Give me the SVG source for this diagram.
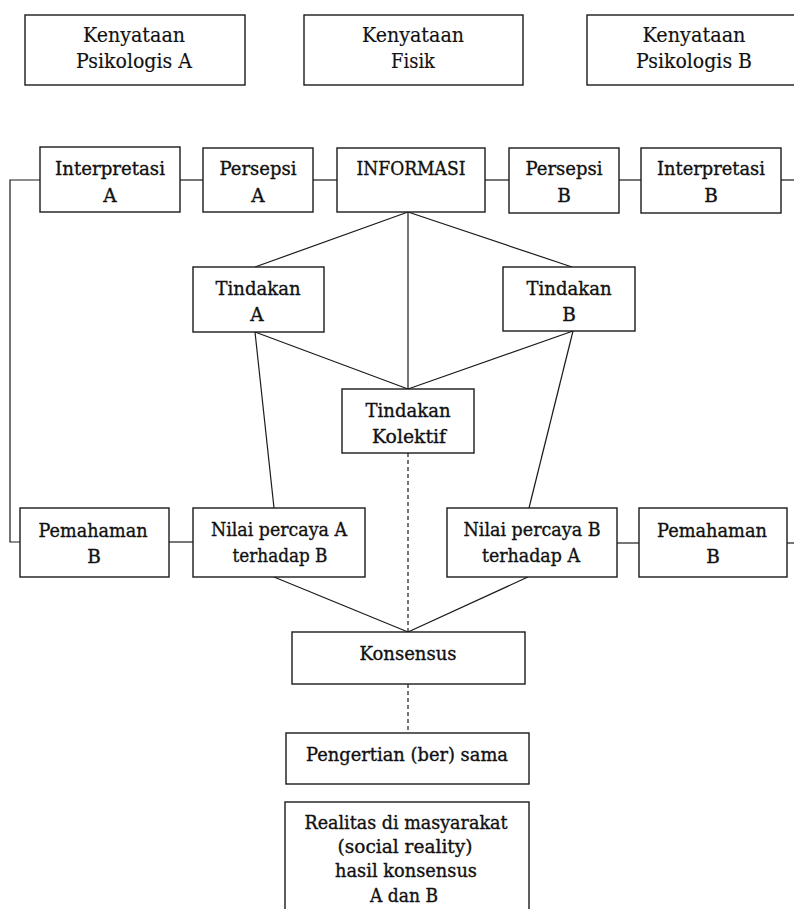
<svg xmlns="http://www.w3.org/2000/svg" width="794" height="909" viewBox="0 0 794 909">
<style>
.box{fill:#fff;stroke:#1a1a1a;stroke-width:1.4}
.ln{fill:none;stroke:#1a1a1a;stroke-width:1.2}
.dash{fill:none;stroke:#1a1a1a;stroke-width:1.2;stroke-dasharray:4 3}
text{font-family:"DejaVu Serif","Liberation Serif",serif;font-size:18.5px;fill:#111;text-anchor:middle;stroke:#111;stroke-width:0.35}
.top{font-size:20px;stroke-width:0.15}
</style>
<rect width="794" height="909" fill="#fff"/>
<g id="connectors">
<polyline class="ln" points="40,180 10,180 10,542 20,542"/>
<line class="ln" x1="180" y1="180" x2="203" y2="180"/>
<line class="ln" x1="313" y1="180" x2="337" y2="180"/>
<line class="ln" x1="485" y1="180" x2="509" y2="180"/>
<line class="ln" x1="619" y1="180" x2="641" y2="180"/>
<line class="ln" x1="781" y1="180" x2="794" y2="180"/>
<line class="ln" x1="408" y1="212" x2="255" y2="267"/>
<line class="ln" x1="408" y1="212" x2="572" y2="267"/>
<line class="ln" x1="408" y1="212" x2="408" y2="389"/>
<line class="ln" x1="255" y1="332" x2="408" y2="389"/>
<line class="ln" x1="573" y1="331" x2="408" y2="389"/>
<line class="ln" x1="255" y1="332" x2="274" y2="508"/>
<line class="ln" x1="573" y1="331" x2="529" y2="508"/>
<line class="dash" x1="408" y1="453" x2="408" y2="632"/>
<line class="ln" x1="274" y1="577" x2="408" y2="632"/>
<line class="ln" x1="528" y1="577" x2="408" y2="632"/>
<line class="dash" x1="408" y1="684" x2="408" y2="733"/>
<line class="ln" x1="169" y1="542" x2="193" y2="542"/>
<line class="ln" x1="617" y1="543" x2="639" y2="543"/>
<line class="ln" x1="787" y1="543" x2="794" y2="543"/>
</g>
<g id="kenyataan-psikologis-a">
<rect class="box" x="25" y="15" width="220" height="70"/>
<text class="top" x="134" y="42" textLength="102" lengthAdjust="spacingAndGlyphs">Kenyataan</text>
<text class="top" x="134" y="68" textLength="116" lengthAdjust="spacingAndGlyphs">Psikologis A</text>
</g>
<g id="kenyataan-fisik">
<rect class="box" x="304" y="15" width="219" height="70"/>
<text class="top" x="413" y="42" textLength="102" lengthAdjust="spacingAndGlyphs">Kenyataan</text>
<text class="top" x="413" y="68" textLength="44" lengthAdjust="spacingAndGlyphs">Fisik</text>
</g>
<g id="kenyataan-psikologis-b">
<rect class="box" x="587" y="15" width="230" height="70"/>
<text class="top" x="694" y="42" textLength="103" lengthAdjust="spacingAndGlyphs">Kenyataan</text>
<text class="top" x="694" y="68" textLength="116" lengthAdjust="spacingAndGlyphs">Psikologis B</text>
</g>
<g id="interpretasi-a">
<rect class="box" x="40" y="147" width="140" height="65"/>
<text x="110" y="175" textLength="110" lengthAdjust="spacingAndGlyphs">Interpretasi</text>
<text x="110" y="202">A</text>
</g>
<g id="persepsi-a">
<rect class="box" x="203" y="148" width="110" height="64"/>
<text x="258" y="175" textLength="77" lengthAdjust="spacingAndGlyphs">Persepsi</text>
<text x="258" y="202">A</text>
</g>
<g id="informasi">
<rect class="box" x="337" y="148" width="148" height="64"/>
<text x="411" y="175" textLength="109" lengthAdjust="spacingAndGlyphs">INFORMASI</text>
</g>
<g id="persepsi-b">
<rect class="box" x="509" y="148" width="110" height="65"/>
<text x="564" y="175" textLength="77" lengthAdjust="spacingAndGlyphs">Persepsi</text>
<text x="564" y="202">B</text>
</g>
<g id="interpretasi-b">
<rect class="box" x="641" y="148" width="140" height="65"/>
<text x="711" y="175" textLength="108" lengthAdjust="spacingAndGlyphs">Interpretasi</text>
<text x="711" y="202">B</text>
</g>
<g id="tindakan-a">
<rect class="box" x="193" y="267" width="131" height="65"/>
<text x="258" y="295" textLength="85" lengthAdjust="spacingAndGlyphs">Tindakan</text>
<text x="257" y="321">A</text>
</g>
<g id="tindakan-b">
<rect class="box" x="503" y="267" width="132" height="64"/>
<text x="569" y="295" textLength="85" lengthAdjust="spacingAndGlyphs">Tindakan</text>
<text x="569" y="321">B</text>
</g>
<g id="tindakan-kolektif">
<rect class="box" x="342" y="389" width="132" height="64"/>
<text x="408" y="417" textLength="85" lengthAdjust="spacingAndGlyphs">Tindakan</text>
<text x="409" y="443" textLength="74" lengthAdjust="spacingAndGlyphs">Kolektif</text>
</g>
<g id="pemahaman-b-left">
<rect class="box" x="20" y="508" width="149" height="69"/>
<text x="93" y="537" textLength="109" lengthAdjust="spacingAndGlyphs">Pemahaman</text>
<text x="94" y="563">B</text>
</g>
<g id="nilai-percaya-a">
<rect class="box" x="193" y="508" width="172" height="69"/>
<text x="279" y="536" textLength="136" lengthAdjust="spacingAndGlyphs">Nilai percaya A</text>
<text x="280" y="562" textLength="95" lengthAdjust="spacingAndGlyphs">terhadap B</text>
</g>
<g id="nilai-percaya-b">
<rect class="box" x="447" y="508" width="170" height="69"/>
<text x="532" y="536" textLength="137" lengthAdjust="spacingAndGlyphs">Nilai percaya B</text>
<text x="531" y="562" textLength="98" lengthAdjust="spacingAndGlyphs">terhadap A</text>
</g>
<g id="pemahaman-b-right">
<rect class="box" x="639" y="508" width="148" height="69"/>
<text x="712" y="537" textLength="110" lengthAdjust="spacingAndGlyphs">Pemahaman</text>
<text x="713" y="563">B</text>
</g>
<g id="konsensus">
<rect class="box" x="292" y="632" width="233" height="52"/>
<text x="408" y="660" textLength="97" lengthAdjust="spacingAndGlyphs">Konsensus</text>
</g>
<g id="pengertian-sama">
<rect class="box" x="286" y="733" width="243" height="51"/>
<text x="407" y="761" textLength="202" lengthAdjust="spacingAndGlyphs">Pengertian (ber) sama</text>
</g>
<g id="realitas">
<rect class="box" x="285" y="802" width="244" height="130"/>
<text x="406" y="829" textLength="203" lengthAdjust="spacingAndGlyphs">Realitas di masyarakat</text>
<text x="405" y="853" textLength="135" lengthAdjust="spacingAndGlyphs">(social reality)</text>
<text x="406" y="877" textLength="142" lengthAdjust="spacingAndGlyphs">hasil konsensus</text>
<text x="404" y="902" textLength="68" lengthAdjust="spacingAndGlyphs">A dan B</text>
</g>
</svg>
